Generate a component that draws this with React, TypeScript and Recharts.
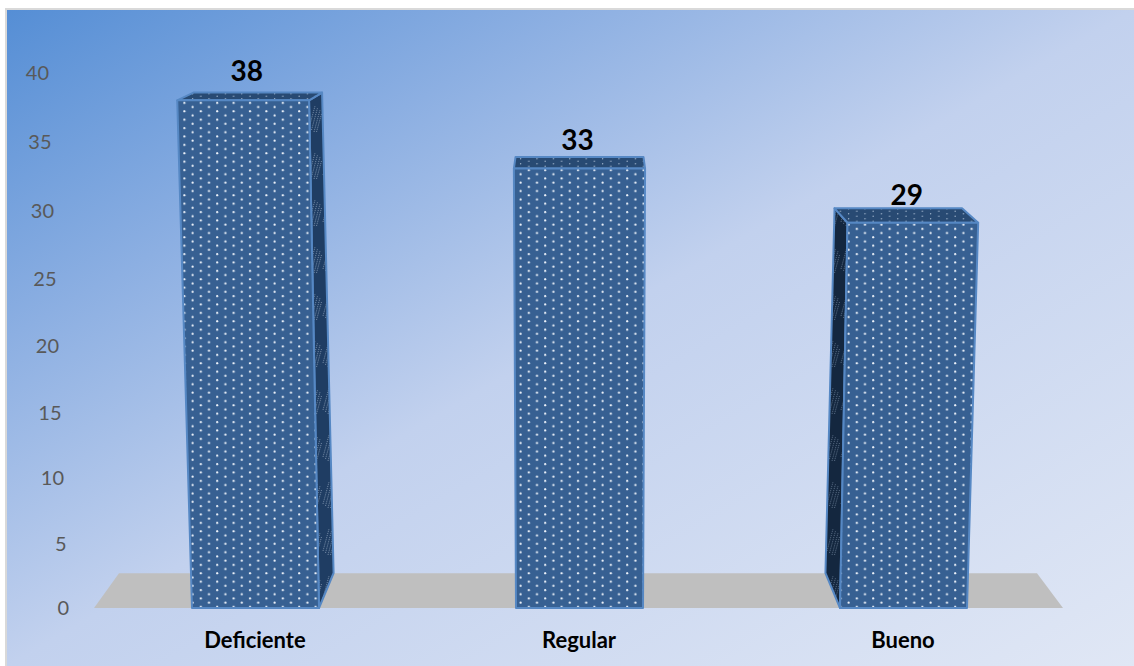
import React from 'react';
import { BarChart, Bar, XAxis, YAxis, ReferenceArea, LabelList } from 'recharts';

const categories = ['Deficiente', 'Regular', 'Bueno'];
const totals = [38, 33, 29];
const yTicks = [0, 5, 10, 15, 20, 25, 30, 35, 40];

const chartData = categories.map((name, i) => ({ name, total: totals[i] }));

const FONT = 'Lato, Carlito, sans-serif';
const VANISH_X = 580;

// the 3D view compresses the axis slightly, mid values sit a few px lower
const sag = (v: number) => 0.0137 * v * (40 - v);

const skew = (x: number, h: number) => 7.5e-5 * (x - VANISH_X) * h;

const Box3D = (props: any) => {
  const { x, y, width, height, payload } = props;
  const base = y + height;
  const top = y + sag(payload.total) * 0.6;
  const h = base - top;
  const left = x;
  const right = x + width;
  const mid = x + width / 2;

  // front face leans towards the vanishing point
  const ftl = left + skew(left, h);
  const ftr = right + skew(right, h);

  // back edge: the floor depth shrinks with height
  const depth = 35 - 0.0535 * h;
  const backShift = -(mid - VANISH_X) * 0.045;
  const btl = ftl + backShift + (width / 2) * 0.025;
  const btr = ftr + backShift - (width / 2) * 0.025;
  const bbl = left + backShift;
  const bbr = right + backShift;

  const front = `${left},${base} ${ftl},${top} ${ftr},${top} ${right},${base}`;
  const roof = `${ftl},${top} ${btl},${top - depth} ${btr},${top - depth} ${ftr},${top}`;

  let side = null;
  if (mid < VANISH_X - 20) {
    side = `${right},${base} ${ftr},${top} ${btr},${top - depth} ${bbr},${base - 35}`;
  } else if (mid > VANISH_X + 20) {
    side = `${left},${base} ${ftl},${top} ${btl},${top - depth} ${bbl},${base - 35}`;
  }

  return (
    <g stroke="#5688c4" strokeWidth={2} strokeLinejoin="round">
      {side && <polygon points={side} fill={mid < VANISH_X ? 'url(#sideRight)' : 'url(#sideLeft)'} />}
      <polygon points={roof} fill="url(#roofDots)" />
      <polygon points={front} fill="url(#frontDots)" />
    </g>
  );
};

const Floor = (props: any) => {
  const { x, y, width, height } = props;
  const pts = `${x + 1},${y + height} ${x + 26},${y} ${x + width - 28},${y} ${x + width - 2},${y + height}`;
  return <polygon points={pts} fill="#bfbfbf" />;
};

const ValueTick = (props: any) => {
  const { x, y, payload } = props;
  const v = payload.value;
  return (
    <text x={x - 36 + 0.5 * (40 - v)} y={y + sag(v)} dy={7} textAnchor="end" fontFamily={FONT} fontSize={20} fill="#595959">
      {v}
    </text>
  );
};

const TotalLabel = (props: any) => {
  const { x, y, width, value } = props;
  const mid = x + width / 2;
  const h = 13.375 * value;
  return (
    <text
      x={mid + skew(mid, h) * 0.55 - 2}
      y={y - 20 + sag(value) * 1.1}
      textAnchor="middle"
      fontFamily={FONT}
      fontSize={28}
      fontWeight="bold"
      fill="#000"
    >
      {value}
    </text>
  );
};

const Hatch = ({ color }: { color: string }) => (
  <g stroke={color} strokeWidth={0.7} strokeDasharray="1.2 1">
    <path d="M1 34l6-22M3.5 36l6-22M6 38l6-22M8.5 38l5-18" />
  </g>
);

export default function App() {
  return (
    <div
      style={{
        position: 'absolute',
        left: 5,
        top: 8,
        width: 1129,
        height: 658,
        boxSizing: 'border-box',
        overflow: 'hidden',
        borderTop: '2px solid #d9d9d9',
        borderLeft: '2px solid #d9d9d9',
        background: 'linear-gradient(to bottom right, #558ed5 0%, #8cafe2 25%, #c2d1ee 50%, #e0e7f5 100%)',
      }}
    >
      <div style={{ position: 'absolute', left: -7, top: -10 }}>
        <BarChart
          width={1134}
          height={666}
          data={chartData}
          barSize={127}
          margin={{ top: 73, right: 69, bottom: 28, left: 33 }}
        >
          <defs>
            <pattern id="frontDots" width={16.4} height={8.4} patternUnits="userSpaceOnUse">
              <rect width={16.4} height={8.4} fill="#376092" />
              <circle cx={4} cy={2} r={1.1} fill="#eef3fa" />
              <circle cx={12.2} cy={6.2} r={1.1} fill="#eef3fa" />
            </pattern>
            <pattern id="roofDots" width={16.4} height={5} patternUnits="userSpaceOnUse">
              <rect width={16.4} height={5} fill="#284a73" />
              <circle cx={4} cy={1.2} r={0.7} fill="#9fb4cd" />
              <circle cx={12.2} cy={3.7} r={0.7} fill="#9fb4cd" />
            </pattern>
            <pattern id="sideRight" width={14} height={47} patternUnits="userSpaceOnUse">
              <rect width={14} height={47} fill="#1f3d63" />
              <Hatch color="#8fa3bb" />
            </pattern>
            <pattern id="sideLeft" width={14} height={47} patternUnits="userSpaceOnUse">
              <rect width={14} height={47} fill="#14273f" />
              <Hatch color="#6f839b" />
            </pattern>
          </defs>
          <XAxis
            dataKey="name"
            axisLine={false}
            tickLine={false}
            tickMargin={18}
            tick={{ fontFamily: FONT, fontSize: 22, fontWeight: 'bold', fill: '#000' }}
          />
          <YAxis
            width={60}
            domain={[0, 40]}
            ticks={yTicks}
            axisLine={false}
            tickLine={false}
            tick={<ValueTick />}
          />
          <ReferenceArea y1={0} y2={2.6} shape={<Floor />} fillOpacity={1} />
          <Bar dataKey="total" shape={<Box3D />} isAnimationActive={false}>
            <LabelList dataKey="total" content={<TotalLabel />} />
          </Bar>
        </BarChart>
      </div>
    </div>
  );
}
